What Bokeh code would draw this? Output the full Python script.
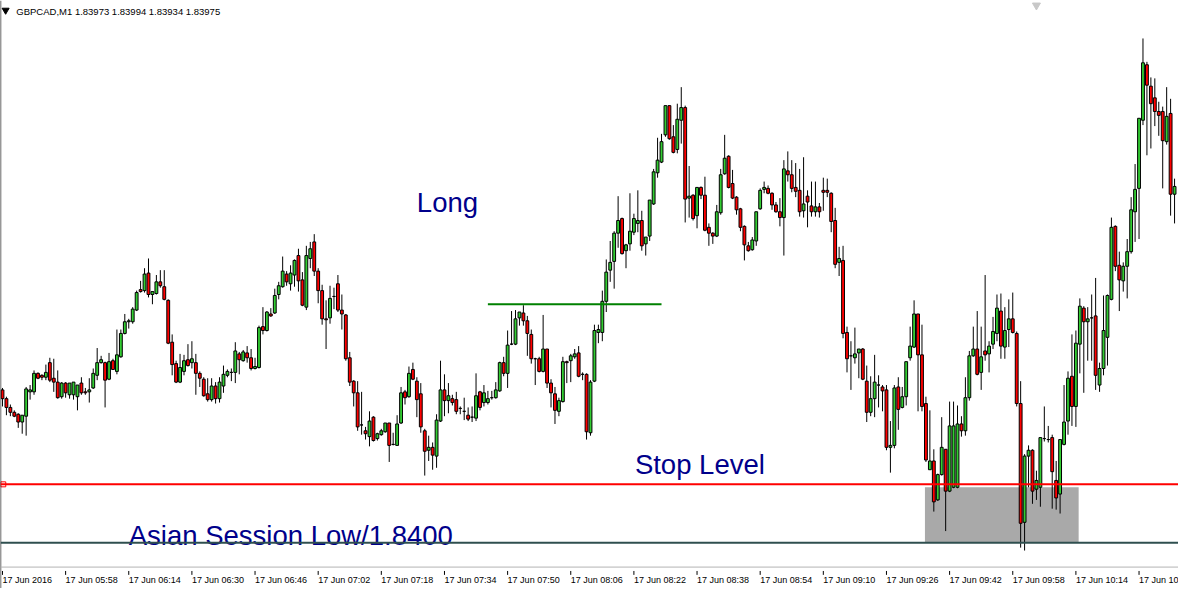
from bokeh.plotting import figure
from bokeh.models import Range1d, ColumnDataSource, Span
from bokeh.embed import file_html
from bokeh.resources import INLINE
from bokeh.core.properties import value

# ---------------- data (prices in points of 0.00001 above 1.84000) ----------------
BASE_PRICE = 1.84000
POINT = 0.00001
header_text = "GBPCAD,M1 1.83973 1.83994 1.83934 1.83975"

open_pts = [157,148,139,134,132,124,130,155,155,174,172,170,185,169,165,150,164,152,152,150,
            164,155,155,159,172,185,185,168,187,176,191,215,227,227,239,260,259,277,255,256,
            268,263,249,206,184,165,176,188,185,185,174,168,153,147,161,148,161,172,175,175,
            194,187,195,190,179,180,222,218,235,236,255,263,276,266,275,295,270,242,292,309,
            279,259,230,231,253,266,239,234,190,166,154,121,115,109,129,107,111,114,123,101,
            100,123,155,150,178,166,153,115,95,98,89,125,157,146,148,147,138,135,131,129,
            128,155,144,144,149,149,156,185,174,204,204,231,236,228,214,189,189,176,199,164,
            153,135,145,186,187,191,195,173,173,113,166,216,216,248,280,289,318,333,300,307,
            319,328,331,307,315,348,380,391,419,449,417,404,434,447,354,357,336,365,357,324,
            318,315,339,379,397,369,355,343,325,305,301,310,343,363,364,359,347,340,334,382,
            378,365,362,341,356,346,340,345,362,362,359,331,288,290,216,192,190,195,199,166,
            134,148,162,160,157,98,100,160,139,150,190,201,235,193,143,75,84,44,70,96,
            53,57,57,122,115,149,192,199,175,197,194,204,215,238,201,219,230,215,143,21,
            89,95,55,57,107,106,108,64,50,101,125,171,140,204,241,227,231,233,162,179,
            211,250,325,285,269,284,299,340,364,434,491,469,457,443,443,412,441,358]
high_pts = [159,150,142,136,133,131,160,162,177,175,173,183,190,189,177,165,165,164,165,162,
            170,159,169,179,200,192,186,195,189,219,219,235,230,242,259,269,282,292,258,275,
            280,280,250,214,187,194,193,204,207,194,176,170,169,169,165,170,182,178,179,206,
            196,198,202,199,190,223,242,238,241,261,268,294,279,285,291,302,278,305,309,317,
            282,265,249,264,262,275,255,235,196,167,166,155,119,135,130,113,117,123,123,113,
            131,160,157,181,185,170,164,117,110,103,132,187,173,164,152,155,140,149,139,140,
            174,156,162,156,156,165,186,191,218,238,239,237,244,233,219,190,191,234,199,168,
            160,149,191,187,194,199,202,175,174,167,224,224,259,291,310,320,356,334,307,359,
            338,362,341,314,352,384,416,420,449,449,429,451,468,449,387,358,365,366,376,328,
            319,347,384,419,398,383,356,344,326,309,314,340,364,371,367,360,350,354,393,402,
            393,390,384,396,362,371,371,349,375,374,360,344,304,305,222,207,221,199,200,182,
            171,193,172,162,162,125,162,170,160,186,222,249,235,224,150,136,96,71,129,96,
            145,145,141,130,170,197,222,238,222,275,207,232,255,256,242,250,257,217,166,91,
            100,96,74,108,140,120,111,84,106,162,176,214,218,251,243,242,255,272,185,254,
            255,334,326,299,288,312,355,389,436,518,494,478,477,453,448,468,456,374]
low_pts = [140,131,130,129,118,112,110,147,152,168,167,167,165,155,148,148,149,148,147,136,
           152,152,144,158,167,184,139,167,182,173,190,214,220,225,238,257,257,252,245,255,
           262,249,204,172,164,164,172,181,179,152,160,150,145,145,143,144,154,170,166,164,
           173,186,185,177,178,179,214,217,232,235,250,262,264,259,263,258,243,239,282,274,
           246,224,199,225,240,237,219,187,161,140,115,111,106,99,104,105,110,113,83,100,
           100,122,142,149,167,129,113,69,84,75,77,124,130,133,141,132,132,126,125,124,
           125,136,140,142,147,148,155,171,159,203,203,223,223,192,184,162,175,175,159,139,
           122,130,144,164,165,189,170,167,106,110,165,205,207,237,268,261,303,296,282,300,
           316,319,300,295,310,347,375,390,417,414,400,400,410,329,334,331,323,353,320,305,
           307,314,337,378,364,353,337,320,290,299,300,305,342,359,358,342,339,325,295,371,
           360,355,335,334,324,335,335,334,341,355,319,282,274,210,175,157,184,169,167,124,
           130,129,139,135,95,72,97,116,138,141,187,200,135,135,83,75,32,43,69,12,
           52,56,56,109,110,146,191,172,157,187,175,199,207,189,189,201,215,140,-5,-8,
           57,40,44,37,104,103,35,34,30,100,111,120,119,174,154,187,187,157,155,172,
           182,249,279,238,258,251,297,309,312,429,398,405,428,418,364,409,336,328]
close_pts = [148,139,134,130,124,131,158,157,174,169,170,175,167,165,149,164,154,164,165,162,
             154,154,157,174,185,188,167,186,178,193,215,227,228,240,257,258,276,255,258,268,
             264,250,205,183,165,180,187,182,189,174,169,151,147,161,148,165,173,176,175,197,
             188,196,190,179,181,221,218,237,233,254,264,279,268,277,290,269,244,295,302,279,
             259,230,229,251,253,239,235,189,165,154,119,121,112,125,105,112,115,123,100,101,
             122,154,149,174,168,147,119,94,98,90,126,157,146,151,144,135,138,135,127,129,
             151,139,154,148,149,157,185,174,203,204,230,237,228,215,189,189,176,199,164,154,
             136,146,186,185,192,194,171,173,114,165,218,219,248,278,288,318,331,297,306,320,
             333,331,305,314,352,381,393,412,449,415,401,435,447,353,356,333,365,357,321,318,
             315,340,378,395,365,354,342,324,306,300,311,340,362,365,359,347,340,334,384,378,
             364,361,340,348,350,340,345,340,360,360,330,286,292,215,189,192,194,199,168,134,
             148,165,162,156,98,100,159,137,150,186,202,235,193,140,85,84,42,70,98,53,
             120,120,122,115,149,192,199,173,191,193,202,217,241,202,218,230,216,143,20,89,
             95,53,64,108,107,106,73,46,106,124,169,140,205,243,227,230,231,172,179,218,
             254,324,284,270,284,299,342,363,436,493,470,451,443,439,413,438,358,366]

time_label_bars = [0, 16, 32, 48, 64, 80, 96, 112, 128, 144, 160, 176, 192, 208, 224, 240, 256, 272, 288]
time_labels = ["17 Jun 2016", "17 Jun 05:58", "17 Jun 06:14", "17 Jun 06:30", "17 Jun 06:46",
               "17 Jun 07:02", "17 Jun 07:18", "17 Jun 07:34", "17 Jun 07:50", "17 Jun 08:06",
               "17 Jun 08:22", "17 Jun 08:38", "17 Jun 08:54", "17 Jun 09:10", "17 Jun 09:26",
               "17 Jun 09:42", "17 Jun 09:58", "17 Jun 10:14", "17 Jun 10:30"]

stop_level = 1.84060
asian_low = 1.84000
breakout_level = 1.84245
breakout_bars = [123, 167]
zone_bars = [233.75, 272.7]
zone_prices = [1.84000, 1.84057]
notes = ["Long", "Stop Level", "Asian Session Low/1.8400"]
note_bars = [105, 160.25, 32]
note_prices = [1.84349, 1.84080, 1.84007]   # anchor of each note

# ---------------- figure (the time scale is drawn inside the frame, as in the terminal) ----------------
W, H = 1178, 588
Y_TOP, Y_BOT = 1.84557, 1.83953          # whole window, top to bottom
REF_PX = (Y_TOP - Y_BOT) / 604           # price per pixel of the original 604-px window

p = figure(width=W, height=H, x_range=Range1d(-0.5, 298.0), y_range=Range1d(Y_BOT, Y_TOP),
           output_backend="svg", toolbar_location=None,
           min_border_left=0, min_border_right=0, min_border_top=0, min_border_bottom=0)
p.background_fill_color = "white"
p.border_fill_color = "white"
p.outline_line_color = None
p.xgrid.visible = False
p.ygrid.visible = False
p.xaxis.visible = False
p.yaxis.visible = False

axis_price = Y_BOT + 22 * REF_PX
tick_top = Y_BOT + 18 * REF_PX
tick_bot = Y_BOT + 14 * REF_PX
label_base = Y_BOT + 8.5 * REF_PX

# left border
p.add_layout(Span(location=-0.45, dimension="height", line_color="black", line_width=1))

# grey zone (drawn first, below candles)
p.quad(left=[zone_bars[0]], right=[zone_bars[1]], bottom=[zone_prices[0]], top=[zone_prices[1]],
       fill_color="#A9A9A9", line_color=None)

n = len(open_pts)
idx = list(range(n))
o = [BASE_PRICE + v * POINT for v in open_pts]
hi = [BASE_PRICE + v * POINT for v in high_pts]
lo = [BASE_PRICE + v * POINT for v in low_pts]
c = [BASE_PRICE + v * POINT for v in close_pts]
top = [max(a, b) for a, b in zip(o, c)]
bot = [min(a, b) for a, b in zip(o, c)]
colors = ["#32CD32" if cc >= oo else "#FF0000" for oo, cc in zip(o, c)]
src = ColumnDataSource(dict(x=idx, o=o, h=hi, l=lo, c=c, top=top, bot=bot, col=colors))

p.segment(x0="x", y0="l", x1="x", y1="h", source=src, line_color="black", line_width=1)
p.vbar(x="x", width=0.72, top="top", bottom="bot", source=src,
       fill_color="col", line_color="black", line_width=1)

# horizontal levels
p.add_layout(Span(location=stop_level, dimension="width", line_color="#FF0000", line_width=2))
p.add_layout(Span(location=asian_low, dimension="width", line_color="#2F4F4F", line_width=2))
p.line(x=breakout_bars, y=[breakout_level, breakout_level], line_color="#008000", line_width=2)

# selected-object anchor on stop line
p.scatter(x=[0.2], y=[stop_level], marker="square", size=5, fill_color="white", line_color="#FF0000")

# notes
nsrc = ColumnDataSource(dict(x=note_bars, y=note_prices, t=notes))
p.text(x="x", y="y", text="t", source=nsrc, text_font=value("Liberation Sans"),
       text_font_size="27.5px", text_color="#00008B", text_align="left", text_baseline="alphabetic")

# header
p.scatter(x=[0.8], y=[Y_TOP - 10 * REF_PX], marker="inverted_triangle", size=7,
          fill_color="black", line_color="black")
p.text(x=[3.5], y=[Y_TOP - 11 * REF_PX], text=[header_text], text_font=value("Liberation Sans"),
       text_font_size="9.5px", text_color="black", text_align="left", text_baseline="alphabetic")
p.scatter(x=[262], y=[Y_TOP - 5 * REF_PX], marker="inverted_triangle", size=8,
          fill_color="#C8C8C8", line_color="#C8C8C8")

# time scale
p.add_layout(Span(location=axis_price, dimension="width", line_color="#B4B4B4", line_width=1))
p.segment(x0=time_label_bars, x1=time_label_bars,
          y0=[tick_bot] * len(time_label_bars), y1=[tick_top] * len(time_label_bars),
          line_color="black", line_width=1)
tsrc = ColumnDataSource(dict(x=time_label_bars, y=[label_base] * len(time_label_bars), t=time_labels))
p.text(x="x", y="y", text="t", source=tsrc, text_font=value("Liberation Sans"),
       text_font_size="9px", text_color="black", text_align="left", text_baseline="alphabetic")

open("out.html", "w").write(file_html(p, INLINE))
